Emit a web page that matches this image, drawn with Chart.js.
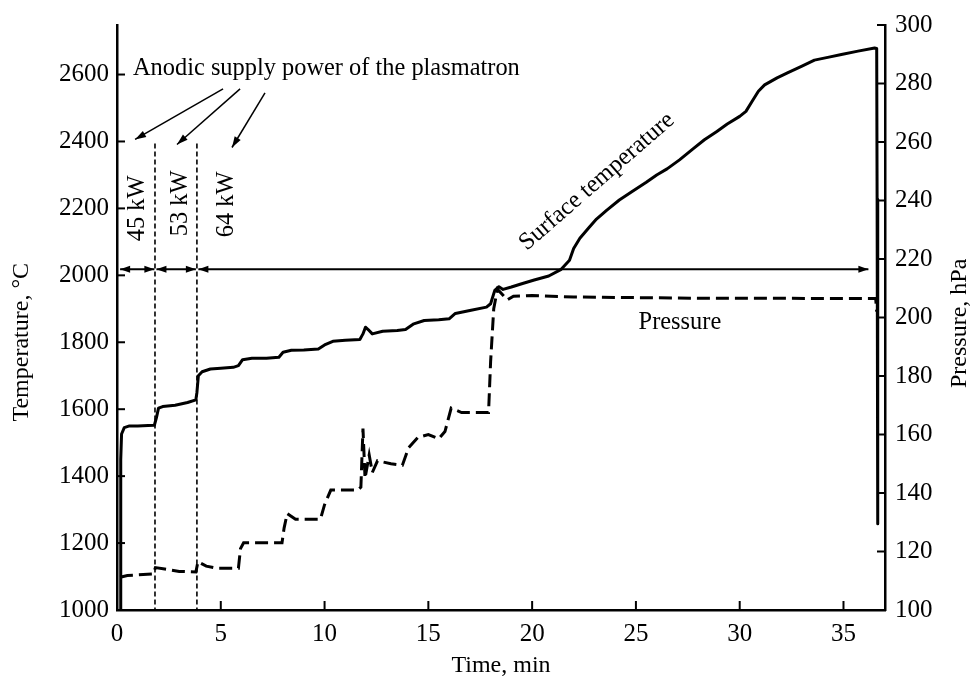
<!DOCTYPE html>
<html><head><meta charset="utf-8">
<script src="https://cdn.jsdelivr.net/npm/chart.js@4.4.1/dist/chart.umd.min.js"></script>
<style>html,body{margin:0;padding:0;background:#fff}canvas{display:block}</style>
</head><body>
<canvas id="c" width="974" height="684"></canvas>
<script>
// ---- data ----
const tempTime  = [0.15,0.18,0.22,0.35,0.6,1.0,1.5,1.8,1.9,2.0,2.2,2.8,3.4,3.8,3.85,3.92,4.1,4.5,5.0,5.6,5.85,6.05,6.5,7.2,7.8,8.0,8.4,9.0,9.7,10.0,10.4,11.0,11.7,11.85,11.97,12.1,12.3,12.8,13.5,13.9,14.3,14.8,15.5,16.0,16.3,17.0,17.8,18.0,18.2,18.4,18.6,19.0,19.5,20.1,20.8,21.4,21.8,22.0,22.3,22.7,23.1,23.6,24.2,24.8,25.5,26.0,26.5,27.1,27.75,28.3,28.9,29.4,30.0,30.3,30.6,30.9,31.2,31.8,32.3,33.0,33.6,34.3,34.9,35.7,36.5,36.6,36.62,36.65,36.65];
const tempValue = [1000,1450,1526,1545,1550,1550,1551,1552,1575,1603,1608,1612,1620,1628,1650,1700,1712,1720,1722,1725,1730,1748,1752,1752,1755,1770,1776,1777,1780,1792,1803,1806,1808,1825,1845,1838,1825,1833,1835,1838,1855,1865,1867,1870,1886,1895,1905,1915,1955,1966,1958,1965,1975,1986,1998,2018,2045,2080,2111,2140,2168,2195,2225,2250,2278,2300,2318,2345,2378,2405,2430,2452,2475,2490,2520,2550,2569,2590,2605,2625,2643,2652,2660,2670,2679,2678,2227,2100,1258];
const presTime  = [0.15,0.5,1.0,1.75,1.85,2.3,3.0,3.8,3.9,4.3,4.8,5.85,5.95,6.1,7.0,7.95,8.05,8.2,8.6,9.8,10.0,10.3,11.6,11.75,11.85,11.95,12.15,12.3,12.55,13.2,13.75,14.05,14.5,15.0,15.5,15.8,16.1,16.6,17.9,18.0,18.15,18.33,18.8,19.1,20,22,25,28,31,34,36.55,36.6];
const presValue = [111.2,111.8,112,112.3,114.5,114,113.2,113,116.5,115,114.3,114.3,121,123,123,123,128,133,131,131,136,141,141,142,162,145,153,147,151,150,149.5,155.5,159,160,158.5,161,169,167.5,167.5,185,203,209.7,206,207.3,207.5,207,206.8,206.6,206.6,206.5,206.5,202];
const timeTicks = [0,5,10,15,20,25,30,35];
const tempTicks = [1000,1200,1400,1600,1800,2000,2200,2400,2600];
const presTicks = [100,120,140,160,180,200,220,240,260,280,300];
const powerSwitchTimes = [1.83,3.85];
const powerLabels = ['45 kW','53 kW','64 kW'];

const FONT = '"Liberation Serif","Times New Roman",serif';
const tickFont = {family: FONT, size: 25};
const titleFont = {family: FONT, size: 24};
const plain = v => String(v);

function arrowHead(ctx, x1, y1, x2, y2, len, half) {
  const a = Math.atan2(y2 - y1, x2 - x1);
  ctx.beginPath();
  ctx.moveTo(x2, y2);
  ctx.lineTo(x2 - len*Math.cos(a) + half*Math.sin(a), y2 - len*Math.sin(a) - half*Math.cos(a));
  ctx.lineTo(x2 - len*Math.cos(a) - half*Math.sin(a), y2 - len*Math.sin(a) + half*Math.cos(a));
  ctx.closePath();
  ctx.fill();
}
function arrow(ctx, x1, y1, x2, y2, w, len, half, both) {
  ctx.lineWidth = w;
  ctx.beginPath(); ctx.moveTo(x1, y1); ctx.lineTo(x2, y2); ctx.stroke();
  arrowHead(ctx, x1, y1, x2, y2, len, half);
  if (both) arrowHead(ctx, x2, y2, x1, y1, len, half);
}

const innerTicks = {
  id: 'innerTicks',
  afterDraw(chart) {
    const {ctx, chartArea: ca, scales: {x, y, y2}} = chart;
    ctx.save();
    ctx.strokeStyle = '#000'; ctx.lineWidth = 2;
    x.ticks.forEach(t => { const px = x.getPixelForValue(t.value); if (t.value === 0) return;
      ctx.beginPath(); ctx.moveTo(px, ca.bottom); ctx.lineTo(px, ca.bottom - 9); ctx.stroke(); });
    y.ticks.forEach(t => { const py = y.getPixelForValue(t.value);
      ctx.beginPath(); ctx.moveTo(ca.left, py); ctx.lineTo(ca.left + 8, py); ctx.stroke(); });
    y2.ticks.forEach(t => { const py = y2.getPixelForValue(t.value);
      ctx.beginPath(); ctx.moveTo(ca.right, py); ctx.lineTo(ca.right - 8, py); ctx.stroke(); });
    // axis titles reading bottom-to-top
    ctx.fillStyle = '#000';
    ctx.font = '24px ' + FONT;
    ctx.textAlign = 'center'; ctx.textBaseline = 'middle';
    ctx.save(); ctx.translate(22, y.getPixelForValue(1800)); ctx.rotate(-Math.PI/2);
    ctx.fillText('Temperature, \u00B0C', 0, 0); ctx.restore();
    ctx.save(); ctx.translate(960, y2.getPixelForValue(198)); ctx.rotate(-Math.PI/2);
    ctx.fillText('Pressure, hPa', 0, 0); ctx.restore();
    ctx.restore();
  }
};

const annotations = {
  id: 'annotations',
  afterDatasetsDraw(chart) {
    const {ctx, scales: {x, y, y2}} = chart;
    const X = v => x.getPixelForValue(v), Y = v => y.getPixelForValue(v);
    ctx.save();
    ctx.strokeStyle = '#000'; ctx.fillStyle = '#000';
    // dashed boundaries between power levels
    ctx.lineWidth = 1.6; ctx.setLineDash([5, 3]);
    powerSwitchTimes.forEach(t => { ctx.beginPath(); ctx.moveTo(X(t), Y(2394)); ctx.lineTo(X(t), Y(1000)); ctx.stroke(); });
    ctx.setLineDash([]);
    // horizontal double arrows
    const yA = Y(2018);
    arrow(ctx, X(0.15), yA, X(1.8), yA, 2, 10, 3.5, true);
    arrow(ctx, X(1.9), yA, X(3.8), yA, 2, 10, 3.5, true);
    arrow(ctx, X(3.92), yA, X(36.2), yA, 2, 10, 3.5, true);
    // pointer arrows from the caption
    arrow(ctx, X(5.11), Y(2557), X(0.87), Y(2406), 1.5, 11, 3.5, false);
    arrow(ctx, X(5.93), Y(2557), X(2.89), Y(2391), 1.5, 11, 3.5, false);
    arrow(ctx, X(7.13), Y(2545), X(5.54), Y(2382), 1.5, 11, 3.5, false);
    // texts
    ctx.font = '24.4px ' + FONT;
    ctx.textAlign = 'left'; ctx.textBaseline = 'alphabetic';
    ctx.fillText('Anodic supply power of the plasmatron', X(0.77), Y(2600));
    ctx.textAlign = 'center'; ctx.textBaseline = 'middle';
    const kwPos = [[1.01, 2200], [3.04, 2215], [5.3, 2212]];
    powerLabels.forEach((s, i) => {
      ctx.save(); ctx.translate(X(kwPos[i][0]), Y(kwPos[i][1])); ctx.rotate(-Math.PI/2);
      ctx.fillText(s, 0, 0); ctx.restore();
    });
    ctx.save(); ctx.translate(X(23.12), Y(2280)); ctx.rotate(-41*Math.PI/180);
    ctx.fillText('Surface temperature', 0, 0); ctx.restore();
    ctx.fillText('Pressure', X(27.12), y2.getPixelForValue(198.1));
    ctx.restore();
  }
};

const tempData = tempTime.map((t, i) => ({x: t, y: tempValue[i]}));
const presData = presTime.map((t, i) => ({x: t, y: presValue[i]}));

new Chart(document.getElementById('c'), {
  type: 'line',
  data: {
    datasets: [
      {label: 'Surface temperature', data: tempData, yAxisID: 'y', borderColor: '#000', borderWidth: 3,
       pointRadius: 0, tension: 0, fill: false, borderJoinStyle: 'round', borderCapStyle: 'round'},
      {label: 'Pressure', data: presData, yAxisID: 'y2', borderColor: '#000', borderWidth: 3,
       borderDash: [13, 6], pointRadius: 0, tension: 0, fill: false}
    ]
  },
  options: {
    responsive: false, animation: false, devicePixelRatio: 1,
    layout: {padding: {top: 23, left: 0, right: 0, bottom: 0}},
    plugins: {legend: {display: false}, tooltip: {enabled: false}},
    scales: {
      x: {type: 'linear', position: 'bottom', min: 0, max: 37,
        afterBuildTicks: s => { s.ticks = timeTicks.map(v => ({value: v})); },
        afterFit: s => { s.height = 74; },
        ticks: {font: tickFont, color: '#000', padding: 9, maxRotation: 0, callback: plain},
        grid: {drawOnChartArea: false, drawTicks: false},
        border: {display: true, color: '#000', width: 2.5},
        title: {display: true, text: 'Time, min', font: titleFont, color: '#000', padding: {top: 0, bottom: 4}}
      },
      y: {type: 'linear', position: 'left', min: 1000, max: 2748,
        afterBuildTicks: s => { s.ticks = tempTicks.map(v => ({value: v})); },
        afterFit: s => { s.width = 117; },
        ticks: {font: tickFont, color: '#000', padding: 8, callback: plain},
        grid: {drawOnChartArea: false, drawTicks: false},
        border: {display: true, color: '#000', width: 2.5}
      },
      y2: {type: 'linear', position: 'right', min: 100, max: 300,
        afterBuildTicks: s => { s.ticks = presTicks.map(v => ({value: v})); },
        afterFit: s => { s.width = 89; },
        ticks: {font: tickFont, color: '#000', padding: 10, callback: plain},
        grid: {drawOnChartArea: false, drawTicks: false},
        border: {display: true, color: '#000', width: 2.5}
      }
    }
  },
  plugins: [annotations, innerTicks]
});
</script>
</body></html>
